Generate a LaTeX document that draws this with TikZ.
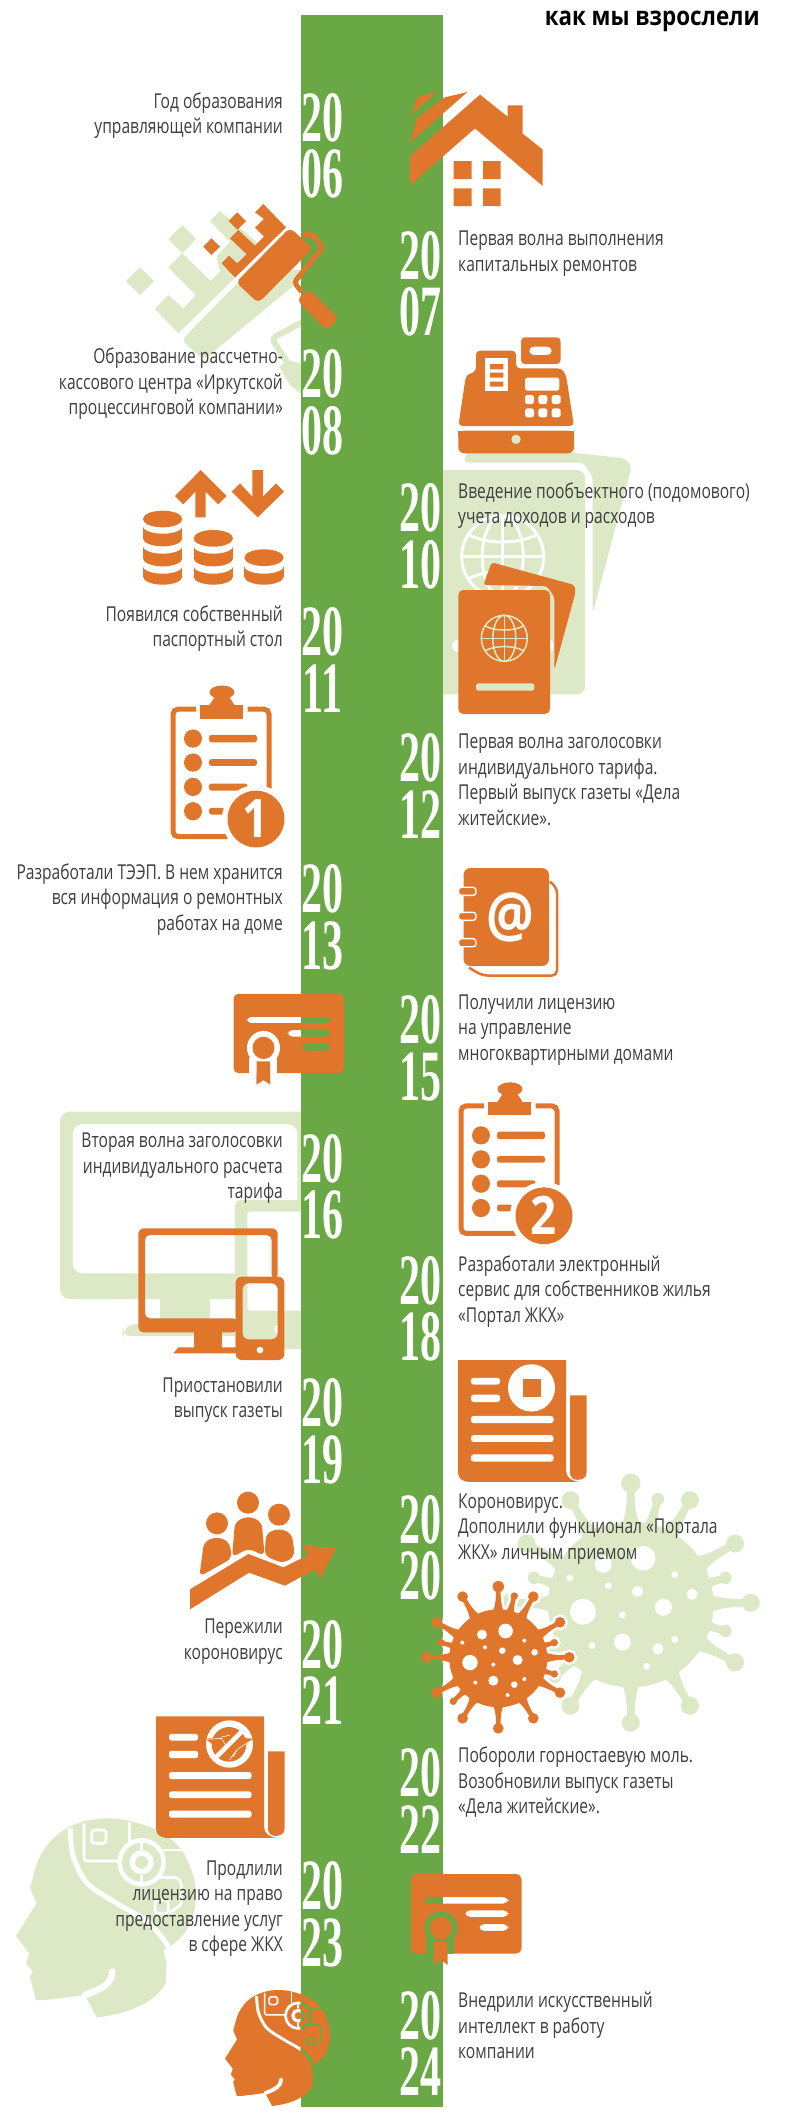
\documentclass[tikz,border=0pt]{standalone}
\usepackage{fontspec}
\setmainfont{Open Sans}
\newfontfamily\txtf[FakeStretch=0.76]{Open Sans}
\newfontfamily\ttlf[FakeStretch=0.86]{Open Sans}
\newfontfamily\yrf{Liberation Serif}
\definecolor{band}{HTML}{6AA745}
\definecolor{org}{HTML}{E0752C}
\definecolor{lgt}{HTML}{DCE8C6}
\definecolor{txt}{HTML}{3E3E3E}
\tikzset{
 zone/.style={x=.5pt,y=-.33801pt,yshift=-#1 pt},
 crop/.style 2 args={shift={(#1,#2)},x=.33333pt,y=-.33333pt},
 lt/.style={anchor=east,align=right,text=txt,inner sep=0pt,yshift=-1.5pt,font=\txtf\fontsize{20.5}{25.5}\selectfont},
 rt/.style={anchor=west,align=left,text=txt,inner sep=0pt,yshift=-1.5pt,font=\txtf\fontsize{20.5}{25.5}\selectfont},
 yearnode/.style={text=white,inner sep=0pt,align=center,font=\yrf\bfseries\fontsize{42}{56.5}\selectfont},
}
\newcommand\yrdig[1]{\scalebox{1.0}[1.72]{#1}}
\newcommand\yr[4]{% name, x, y, digits
 \node[yearnode] (y#1) at (#2,#3+28.25) {\yrdig{20}\\\yrdig{#4}};}
\newcommand\pill[5][white]{\fill[#1,rounded corners=2.5pt] (#2,#3) rectangle (#4,#5);}
% virus: x y scale pathstyle
\newcommand\virus[4]{%
 \begin{scope}[shift={(#1,#2)},scale=#3]
 \foreach \a/\b/\r in {0/-71.7/5.7,-35.7/-61.7/5.3,35/-61.7/5.3,16/-62.3/3.7,-61.7/-36/5.3,61.7/-36/5.3,-57.3/-15.7/3.7,56/-15.7/3.7,-71.7/-1/5.3,71/-1/5.3,56/15.7/3.7,-61.7/34.3/5.3,61.7/34.3/5.3,-35.7/60/5.3,35/60/5.3,0/70/5.3,-45/43/3.7}{
   \pgfmathsetmacro\ang{atan2(-\b,\a)}
   \pgfmathsetmacro\Ll{veclen(\a,\b)}
   \path[#4,rotate=\ang] (42,-9) .. controls (48,-3) and (\Ll-14,-2.2) .. (\Ll,-2.2) -- (\Ll,2.2) .. controls (\Ll-14,2.2) and (48,3) .. (42,9) -- cycle;
   \path[#4] (\a,\b) circle[radius=\r];
 }
 \path[#4] (0,0) circle[radius=49];
 \fill[white] (7.3,-27.3) circle[radius=7.3] (-16.3,-23.7) circle[radius=5] (-28.3,4.3) circle[radius=7.7]
  (-5,22.3) circle[radius=5] (19.3,1.7) circle[radius=5] (4,-7.7) circle[radius=3.3] (36.3,-6) circle[radius=3.3]
  (-36,-15.7) circle[radius=2] (-13.3,-11) circle[radius=2] (-5,6.3) circle[radius=2] (-23,24.3) circle[radius=2]
  (16,26.3) circle[radius=3.3] (26,-17.7) circle[radius=2] (26,20.7) circle[radius=2] (9.3,36.7) circle[radius=2];
 \end{scope}}
% globe: x y r colour width
\newcommand\globe[5]{%
 \begin{scope}[shift={(#1,#2)},scale=#3,#4,line width=#5]
 \draw (0,0) circle[radius=1];
 \draw (0,-1) -- (0,1);
 \draw (0,0) ellipse[x radius=.5,y radius=1];
 \draw (-1,0) -- (1,0);
 \draw (-.84,-.54) .. controls (-.4,-.3) and (.4,-.3) .. (.84,-.54);
 \draw (-.84,.54) .. controls (-.4,.3) and (.4,.3) .. (.84,.54);
 \end{scope}}
% head, in units of a 3x crop
\newcommand\headbody[4]{%
 \begin{scope}[shift={(#1,#2)},x=#3*.33333pt,y=-#3*.33333pt]
 \fill[#4] plot[smooth,tension=.55] coordinates {(97,240) (115,180) (150,125) (200,85) (260,62) (325,55) (400,65) (480,95) (545,150) (583,240) (585,320) (560,390) (510,440)}
  -- (490,450) -- (500,490) -- (497,550) .. controls (470,600) and (400,640) .. (290,652) -- (255,585) -- (135,600) -- (108,600) -- (90,530) -- (98,515) -- (78,490) -- (88,460) -- (48,408) -- (110,310) -- (90,262) -- cycle;
 \end{scope}}
\newcommand\headwires[4]{%
 \begin{scope}[shift={(#1,#2)},x=#3*.33333pt,y=-#3*.33333pt,draw=#4]
 \draw[line width=#3*5pt] plot[smooth,tension=.5] coordinates {(210,85) (220,170) (262,250) (350,310) (450,370) (512,450)};
 \draw[line width=#3*2.8pt,rounded corners=#3*3pt] (252,70) -- (252,183) -- (355,183);
 \draw[line width=#3*2.8pt,rounded corners=#3*3pt] (275,90) rectangle (318,130);
 \draw[line width=#3*4.6pt] (425,187) circle[radius=66];
 \draw[line width=#3*5.4pt] (425,187) circle[radius=28];
 \draw[line width=#3*3pt] (390,65) -- (390,132) (425,125) -- (425,150) (425,225) -- (425,255);
 \draw[line width=#3*2.8pt] (490,150) -- (552,150);
 \draw[line width=#3*2.8pt,rounded corners=#3*3pt] (480,232) -- (532,232) -- (545,250) -- (545,312) -- (508,340);
 \draw[line width=#3*2.8pt,rounded corners=#3*3pt] (465,300) rectangle (505,340);
 \draw[line width=#3*6.6pt,line cap=round] (337,515) .. controls (335,550) and (310,565) .. (255,585);
 \end{scope}}
% clipboard: shift x, y, digit
\newcommand\clipb[3]{%
 \begin{scope}[shift={(#1,#2)}]
 \begin{scope}[zone=530]
 \draw[org,line width=5pt,rounded corners=5pt] (392,530) -- (346,530) -- (346,907) -- (455,907);
 \draw[org,line width=5pt,rounded corners=5pt] (495,530) -- (538,530) -- (538,765);
 \fill[org] (400,517) rectangle (485,558);
 \fill[org] (418,520) -- (432,488) -- (456,488) -- (470,520) -- cycle;
 \fill[org] (444,480) circle[x radius=25,y radius=20];
 \foreach \yy in {617,688,760,832}{\fill[org] (386,\yy) circle[x radius=18,y radius=27];}
 \pill[org]{418}{606}{514}{628}
 \pill[org]{418}{678}{514}{698}
 \pill[org]{418}{750}{495}{771}
 \pill[org]{418}{822}{450}{842}
 \fill[white] (512,855) circle[x radius=68,y radius=100];
 \fill[org] (512,855) circle[x radius=57,y radius=84];
 \node[text=white,inner sep=0pt,font=\ttlf\bfseries\fontsize{53}{53}\selectfont] (badge#3) at (512,853) {#3};
 \end{scope}
 \end{scope}}
\newcommand\cert[2]{%
 \begin{scope}[shift={(#1,#2)}]
 \begin{scope}[zone=1580]
 \fill[org,even odd rule,rounded corners=5pt] (822,870) rectangle (1043,1105)
  (848,938) rectangle (1017,957) (930,977) rectangle (1017,997) (958,1018) rectangle (1017,1038);
 \end{scope}
 \end{scope}}
\newcommand\certseal[3]{%
 \begin{scope}[shift={(#1,#2)}]
 \begin{scope}[zone=1580]
 \fill[#3] (882,1030) circle[x radius=33,y radius=50];
 \fill[#3] (852,1060) rectangle (908,1106);
 \fill[org] (882,1030) circle[x radius=22,y radius=33];
 \fill[org] (868,1070) -- (895,1070) -- (895,1138) -- (882,1125) -- (868,1138) -- cycle;
 \end{scope}
 \end{scope}}
\newcommand\newsp[3]{%
 \begin{scope}[shift={(#1,#2)}]
 \begin{scope}[zone=1060]
 \fill[org] (916,888) -- (1132,888) -- (1132,1215) .. controls (1132,1235) and (1145,1248) .. (1160,1248) -- (940,1248) .. controls (925,1248) and (916,1238) .. (916,1220) -- cycle;
 \fill[org] (1140,992) -- (1173,992) -- (1173,1222) .. controls (1173,1235) and (1165,1242) .. (1155,1242) .. controls (1147,1242) and (1140,1235) .. (1140,1222) -- cycle;
 \pill{942}{940}{1000}{960}
 \pill{942}{990}{1000}{1012}
 \pill{942}{1053}{1107}{1074}
 \pill{942}{1110}{1107}{1130}
 \pill{942}{1167}{1107}{1188}
 \fill[white] (1063,970) circle[x radius=47,y radius=70];
 #3
 \end{scope}
 \end{scope}}
\newcommand\coinb[3]{% cx, ytop, ybottom
 \fill[org] (#1-59,#2) rectangle (#1+59,#3);
 \fill[org] (#1,#3) circle[x radius=59,y radius=24];
 \fill[white] (#1,#2) circle[x radius=60,y radius=24];}
\newcommand\coincap[2]{\fill[org] (#1,#2) circle[x radius=59,y radius=25];}
\begin{document}
\begin{tikzpicture}[x=1pt,y=-1pt]
\useasboundingbox (0,0) rectangle (785,2110);
\fill[white] (0,0) rectangle (785,2110);
% ---- pale background shapes ----
\begin{scope}[crop={120}{195},lgt]
 \fill (187,90) -- (228,132) -- (187,175) -- (145,132) -- cycle;
 \fill (60,217) -- (102,258) -- (60,300) -- (18,258) -- cycle;
 \fill (270,78) -- (300,48) -- (420,150) -- (345,245) -- (300,230) -- (290,185) -- (330,140) -- cycle;
 \fill (105,342) -- (145,300) -- (190,340) -- (228,300) -- (145,217) -- (187,175) -- (272,258) -- (300,230) -- (345,248) -- (175,415) -- cycle;
 \fill[rounded corners=5pt] (185,435) -- (355,262) -- (540,220) -- (560,240) -- (250,495) -- cycle;
 \draw[line width=6pt,rounded corners=5pt] (560,375) -- (455,430) -- (500,500);
 \fill (478,515) -- (503,495) -- (560,510) -- (560,610) -- (510,570) -- cycle;
\end{scope}
\begin{scope}[crop={440}{330},lgt]
 \fill[rounded corners=4pt] (90,335) -- (555,385) -- (575,410) -- (458,850) -- (458,440) -- (430,398) -- (72,398) -- cycle;
 \fill[rounded corners=8pt] (-20,420) -- (435,420) -- (435,1093) -- (-20,1093) -- cycle;
\end{scope}
\globe{502.7}{556.7}{41}{white}{3pt}
\begin{scope}[crop={440}{330}]
 \fill[white,rounded corners=5pt] (37,930) rectangle (342,965);
\end{scope}
\begin{scope}[crop={50}{1100}]
 \fill[lgt,even odd rule,rounded corners=10pt] (30,35) rectangle (790,597) (68,72) rectangle (742,520);
 \fill[lgt] (330,590) rectangle (480,680);
 \fill[lgt,rounded corners=8pt] (218,708) -- (218,695) -- (245,670) -- (790,670) -- (790,708) -- cycle;
 \fill[lgt,rounded corners=6pt] (555,300) rectangle (790,747);
 \fill[white,rounded corners=3pt] (592,335) rectangle (790,632);
 \fill[white] (685,688) circle[radius=13];
\end{scope}
\virus{630.8}{1604.4}{1.69}{fill=lgt}
\headbody{0}{1800}{1}{lgt}
\headwires{0}{1800}{1}{white}
% ---- band ----
\fill[band] (300.5,15) rectangle (442.5,2107);
% ---- title ----
\node[anchor=east,inner sep=0pt,text=black,font=\ttlf\bfseries\fontsize{26}{30}\selectfont] (title) at (760,21.5) {как мы взрослели};
% ---- years ----
\yr{06}{322.5}{117.5}{06}
\yr{07}{420}{255.5}{07}
\yr{08}{322.5}{374}{08}
\yr{10}{420}{508}{10}
\yr{11}{322.5}{631.5}{11}
\yr{12}{420}{757.5}{12}
\yr{13}{322.5}{889}{13}
\yr{15}{420}{1020}{15}
\yr{16}{322.5}{1158.5}{16}
\yr{18}{420}{1280.5}{18}
\yr{19}{322.5}{1403}{19}
\yr{20}{420}{1519.5}{20}
\yr{21}{322.5}{1644}{21}
\yr{22}{420}{1772.5}{22}
\yr{23}{322.5}{1886}{23}
\yr{24}{420}{2015}{24}
% ---- texts ----
\node[lt] (t06) at (283,114) {Год образования\\управляющей компании};
\node[rt] (t07) at (458,252) {Первая волна выполнения\\капитальных ремонтов};
\node[lt] (t08) at (283,382.6) {Образование рассчетно-\\кассового центра «Иркутской\\процессинговой компании»};
\node[rt] (t10) at (458,504) {Введение пообъектного (подомового)\\учета доходов и расходов};
\node[lt] (t11) at (283,627) {Появился собственный\\паспортный стол};
\node[rt] (t12) at (458,778.4) {Первая волна заголосовки\\индивидуального тарифа.\\Первый выпуск газеты «Дела\\житейские».};
\node[lt] (t13) at (283,897.7) {Разработали ТЭЭП. В нем хранится\\вся информация о ремонтных\\работах на доме};
\node[rt] (t15) at (458,1028.5) {Получили лицензию\\на управление\\многоквартирными домами};
\node[lt] (t16) at (283,1166.8) {Вторая волна заголосовки\\индивидуального расчета\\тарифа};
\node[rt] (t18) at (458,1290) {Разработали электронный\\сервис для собственников жилья\\«Портал ЖКХ»};
\node[lt] (t19) at (283,1398.7) {Приостановили\\выпуск газеты};
\node[rt] (t20) at (458,1527.6) {Короновирус.\\Дополнили функционал «Портала\\ЖКХ» личным приемом};
\node[lt] (t21) at (283,1640) {Пережили\\короновирус};
\node[rt] (t22) at (458,1781) {Побороли горностаевую моль.\\Возобновили выпуск газеты\\«Дела житейские».};
\node[lt] (t23) at (283,1907) {Продлили\\лицензию на право\\предоставление услуг\\в сфере ЖКХ};
\node[rt] (t24) at (458,2024) {Внедрили искусственный\\интеллект в работу\\компании};
% ---- orange icons ----
\begin{scope}[crop={120}{195},org]
 \fill (352,52) -- (378,78) -- (352,104) -- (326,78) -- cycle;
 \fill (274,130) -- (300,155) -- (274,180) -- (250,155) -- cycle;
 \fill (430,27) -- (498,97) -- (345,248) -- (305,205) -- (327,182) -- (352,205) -- (380,178) -- (330,130) -- (355,105) -- (405,152) -- (432,125) -- (405,98) -- (432,72) -- (405,52) -- cycle;
 \fill[rounded corners=5pt] (510,98) -- (578,160) -- (415,324) -- (348,262) -- cycle;
 \draw[line width=5pt,rounded corners=4pt] (548,118) -- (580,118) -- (608,158) -- (522,262) -- (545,290);
 \fill[rounded corners=6pt] (530,315) -- (565,281) -- (656,370) -- (620,407) -- cycle;
\end{scope}
\begin{scope}[zone=0,org]
 % house
 \fill (875,270) -- (822,340) -- (835,288) -- cycle;
 \fill (935,272) -- (820,422) -- (833,350) -- (890,288) -- cycle;
 \fill (960,280) -- (1015,345) -- (1015,312) -- (1045,312) -- (1045,395) -- (1085,442) -- (1085,550) -- (950,380) -- (820,548) -- (820,462) -- cycle;
 \fill (907,477) rectangle (943,530) (966,477) rectangle (1001,530) (907,557) rectangle (943,610) (966,557) rectangle (1001,610);
\end{scope}
% register
\begin{scope}[crop={440}{330},org]
 \fill[even odd rule,rounded corners=4pt] (243,22) rectangle (362,102) (268,50) rectangle (335,75);
 \fill[rounded corners=4pt] (108,62) -- (228,62) -- (228,115) -- (365,115) -- (378,135) -- (402,288) -- (55,288) -- (78,135) -- (108,125) -- cycle;
 \fill[white] (135,85) rectangle (203,183);
 \fill (150,102) rectangle (190,118) (150,128) rectangle (190,143) (150,155) rectangle (190,170);
 \pill{255}{143}{358}{182}
 \foreach \xx in {255,295,335}{\pill{\xx}{195}{\xx+27}{222} \pill{\xx}{235}{\xx+27}{262}}
 \fill[rounded corners=6pt] (55,302) -- (402,302) -- (402,370) -- (55,370) -- cycle;
 \fill (55,302) rectangle (402,320);
 \fill[lgt] (228,328) circle[radius=14];
\end{scope}
% arrows and coins
\begin{scope}[crop={130}{460},org]
 \fill (212,30) -- (290,108) -- (265,133) -- (227,95) -- (227,172) -- (196,172) -- (196,95) -- (160,133) -- (135,108) -- cycle;
 \fill (367,30) -- (399,30) -- (399,110) -- (438,70) -- (462,95) -- (383,172) -- (305,95) -- (330,70) -- (367,110) -- cycle;
 \foreach \cx in {98,250,402}{\coinb{\cx}{317}{350}}
 \foreach \cx in {98,250}{\coinb{\cx}{257}{295}}
 \coinb{98}{197}{235}
 \coincap{98}{177}
 \coincap{250}{235}
 \coincap{402}{293}
\end{scope}
% passport
\begin{scope}[crop={440}{330}]
 \fill[org,rounded corners=3pt] (155,697) -- (403,765) -- (407,785) -- (343,1020) -- (343,800) -- (320,768) -- (130,765) -- cycle;
 \fill[org,rounded corners=5pt] (55,780) rectangle (330,1152);
 \pill[lgt]{108}{1060}{283}{1082}
\end{scope}
\globe{504.3}{638.3}{23}{lgt}{1.5pt}
% address book
\begin{scope}[zone=530]
 \draw[org,line width=2.5pt,rounded corners=5pt] (1100,1040) -- (1114,1060) -- (1114,1318) -- (965,1318) -- (938,1295);
 \fill[org,rounded corners=7pt] (927,1000) rectangle (1098,1290);
 \foreach \yy in {1069,1143,1221}{\draw[white,line width=1.4pt,fill=org,rounded corners=3pt] (917,\yy-12) rectangle (952,\yy+12);}
 \node[text=white,inner sep=0pt,font=\ttlf\bfseries\fontsize{62}{62}\selectfont] (at) at (1020,1145) {@};
\end{scope}
\clipb{0}{0}{1}
\clipb{288}{396.8}{2}
\cert{-177.5}{-880.3}
\certseal{-177.5}{-880.3}{band}
\begin{scope}
\clip (0,0) rectangle (300.5,2110);
\certseal{-177.5}{-880.3}{white}
\end{scope}
\cert{0}{0}
\certseal{0}{0}{band}
% monitor and phone
\begin{scope}[crop={50}{1100},org]
 \fill[rounded corners=5pt] (265,385) -- (683,385) -- (683,540) -- (665,540) -- (665,405) -- (285,405) -- (285,655) -- (565,655) -- (565,697) -- (265,697) -- cycle;
 \fill (432,690) rectangle (516,745);
 \fill (370,760) -- (385,742) -- (565,742) -- (565,760) -- cycle;
 \fill[even odd rule,rounded corners=6pt] (557,530) rectangle (703,780) (578,550) rectangle (683,718);
 \fill[white] (630,750) circle[radius=10];
\end{scope}
% people and rising arrow
\begin{scope}[crop={180}{1480},org]
 \fill (204,68) circle[radius=33];
 \fill (111,130) circle[radius=33];
 \fill (297,104) circle[radius=33];
 \fill[rounded corners=6pt] (58,290) -- (72,185) -- (110,170) -- (148,185) -- (156,235) -- cycle;
 \fill[rounded corners=6pt] (156,232) -- (165,125) -- (205,108) -- (245,125) -- (254,228) -- (205,205) -- cycle;
 \fill[rounded corners=6pt] (254,228) -- (258,160) -- (297,145) -- (335,160) -- (345,228) -- (310,250) -- cycle;
 \fill (30,328) -- (205,222) -- (310,262) -- (385,225) -- (368,197) -- (468,203) -- (422,295) -- (405,268) -- (315,317) -- (207,278) -- (30,388) -- cycle;
\end{scope}
\newsp{0}{0}{\fill[org] (1045,943) rectangle (1082,997);}
\newsp{-302}{356.1}{}
\begin{scope}[crop={150}{1710}]
 \fill[org] (237,103) circle[radius=52];
 \fill[org] (165,86) -- (195,84) -- (195,108) -- cycle;
 \fill[org] (310,86) -- (280,84) -- (280,110) -- cycle;
 \draw[white,line width=4.5pt] (278,62) -- (196,144);
 \draw[white,line width=.6pt] (170,88) -- (215,85) -- (228,108) (212,82) -- (240,75) (305,90) -- (262,118) -- (238,150) (262,118) -- (250,140);
\end{scope}
% virus with halo
\begin{scope}
 \clip (442.5,1500) rectangle (785,1800);
 \virus{498.3}{1658.3}{1}{fill=white,draw=white,line width=5pt}
\end{scope}
\virus{498.3}{1658.3}{1}{fill=org}
% head
\headbody{215.7}{1979.3}{.583}{org}
\begin{scope}
\clip (0,0) rectangle (300.5,2110);
\headwires{215.7}{1979.3}{.583}{white}
\end{scope}
\begin{scope}
\clip (300.5,0) rectangle (785,2110);
\headwires{215.7}{1979.3}{.583}{band}
\end{scope}
\end{tikzpicture}
\end{document}
